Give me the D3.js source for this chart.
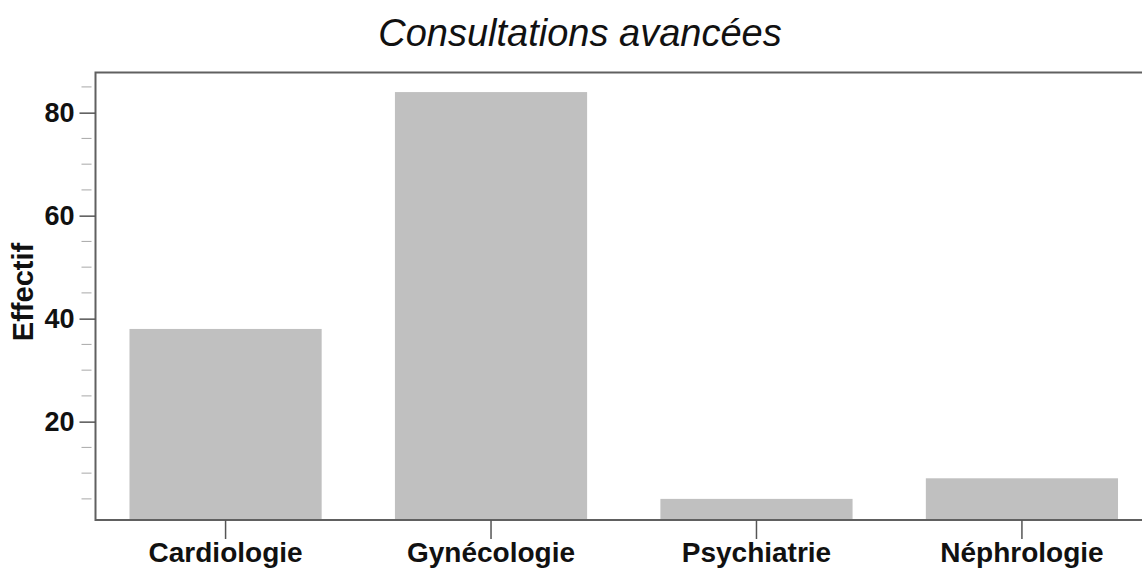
<!DOCTYPE html>
<html>
<head>
<meta charset="utf-8">
<script src="https://cdn.jsdelivr.net/npm/d3@7"></script>
<style>
  body { margin: 0; background: #fff; }
  svg { display: block; font-family: "Liberation Sans", Arial, sans-serif; }
</style>
</head>
<body>
<svg id="drawing_region"></svg>
<script>
// données
const categories = ['Cardiologie', 'Gynécologie', 'Psychiatrie', 'Néphrologie'];
const effectifs = [38, 84, 5, 9];
const majorTicks = [20, 40, 60, 80];
const minorTicks = [5, 10, 15, 25, 30, 35, 45, 50, 55, 65, 70, 75, 85];
const yDomain = [0.9, 87.8];

const width = 1142, height = 570;
const plot = {left: 95.5, top: 72.5, bottom: 520, right: 1152};

const svg = d3.select('#drawing_region')
    .attr('width', width)
    .attr('height', height);

const xscale = d3.scaleBand()
    .domain(categories)
    .range([plot.left, plot.right])
    .paddingInner(0.276)
    .paddingOuter(0.128);

const yscale = d3.scaleLinear()
    .domain(yDomain)
    .range([plot.bottom, plot.top]);

// barres
svg.append('g')
    .selectAll('rect')
    .data(categories)
    .join('rect')
    .attr('x', d => xscale(d))
    .attr('width', xscale.bandwidth())
    .attr('y', (d, i) => yscale(effectifs[i]))
    .attr('height', (d, i) => plot.bottom - yscale(effectifs[i]))
    .attr('fill', '#c0c0c0');

// cadre
svg.append('rect')
    .attr('x', plot.left)
    .attr('y', plot.top)
    .attr('width', plot.right - plot.left)
    .attr('height', plot.bottom - plot.top)
    .attr('fill', 'none')
    .attr('stroke', '#606060')
    .attr('stroke-width', 2);

// graduations mineures
svg.append('g')
    .selectAll('line')
    .data(minorTicks)
    .join('line')
    .attr('x1', plot.left - 14)
    .attr('x2', plot.left - 4)
    .attr('y1', d => yscale(d))
    .attr('y2', d => yscale(d))
    .attr('stroke', '#a8a8a8')
    .attr('stroke-width', 1);

// axe y
const yaxis = d3.axisLeft(yscale)
    .tickValues(majorTicks)
    .tickSize(16)
    .tickPadding(5)
    .tickSizeOuter(0);

const yg = svg.append('g')
    .attr('transform', `translate(${plot.left}, 0)`)
    .call(yaxis);
yg.select('.domain').remove();
yg.selectAll('line').attr('stroke', '#555').attr('stroke-width', 1.5);
yg.selectAll('text')
    .attr('fill', '#111')
    .style('font-size', '27px')
    .style('font-weight', 'bold');

// axe x
const xaxis = d3.axisBottom(xscale)
    .tickSize(19)
    .tickPadding(3)
    .tickSizeOuter(0);

const xg = svg.append('g')
    .attr('transform', `translate(0, ${plot.bottom})`)
    .call(xaxis);
xg.select('.domain').remove();
xg.selectAll('line').attr('stroke', '#555').attr('stroke-width', 1.5);
xg.selectAll('text')
    .attr('fill', '#111')
    .style('font-size', '28px')
    .style('font-weight', 'bold');

// titre
svg.append('text')
    .attr('x', 580)
    .attr('y', 46)
    .attr('text-anchor', 'middle')
    .style('font-size', '38px')
    .style('font-style', 'italic')
    .attr('fill', '#111')
    .text('Consultations avancées');

// titre de l'axe y
svg.append('text')
    .attr('transform', 'translate(33, 292) rotate(-90)')
    .attr('text-anchor', 'middle')
    .style('font-size', '29px')
    .style('font-weight', 'bold')
    .attr('fill', '#111')
    .text('Effectif');
</script>
</body>
</html>
